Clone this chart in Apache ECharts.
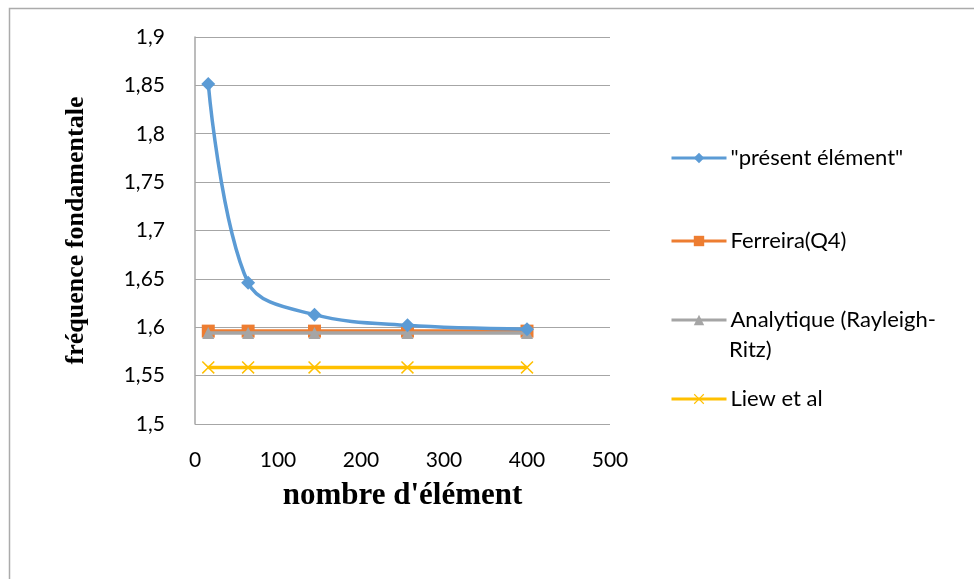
<!DOCTYPE html>
<html>
<head>
<meta charset="utf-8">
<script src="https://cdn.jsdelivr.net/npm/echarts@6/dist/echarts.min.js"></script>
<style>
  html, body { margin: 0; padding: 0; background: #fff; }
  #chart { width: 974px; height: 579px; }
</style>
</head>
<body>
<div id="chart"></div>
<script>
// Number of elements (mesh sizes)
const elements = [16, 64, 144, 256, 400];

// Fundamental frequency for each method
const presentElement = [1.8515, 1.646, 1.613, 1.602, 1.598];
const ferreira = [1.596, 1.596, 1.596, 1.596, 1.596];
const analytique = [1.594, 1.594, 1.594, 1.594, 1.594];
const liew = [1.5585, 1.5585, 1.5585, 1.5585, 1.5585];

const seriesNames = ['"présent élément"', 'Ferreira(Q4)', 'Analytique (Rayleigh-', 'Liew et al'];
const colors = ['#5B9BD5', '#ED7D31', '#A5A5A5', '#FFC000'];

const xTicks = { min: 0, max: 500, interval: 100 };
const yTicks = { min: 1.5, max: 1.9, interval: 0.05 };

const sansFont = 'Lato, "Open Sans", sans-serif';
const serifFont = '"Liberation Serif", "DejaVu Serif", serif';

const crossPath = 'path://M0,8L8,0L50,42L92,0L100,8L58,50L100,92L92,100L50,58L8,100L0,92L42,50Z';

function pairs(ys) { return elements.map((x, i) => [x, ys[i]]); }
const fmt = v => String(+v.toFixed(2)).replace('.', ',');

const chart = echarts.init(document.getElementById('chart'));

function legendAt(name, top) {
  return {
    data: [name], left: 670, top: top, orient: 'vertical',
    itemWidth: 55, itemHeight: 13, itemGap: 0, padding: 0,
    lineStyle: { width: 3 },
    textStyle: { fontFamily: sansFont, fontSize: 22, color: '#000', padding: [0, 0, 0, -1] },
    selectedMode: false
  };
}

chart.setOption({
  animation: false,
  color: colors,
  grid: { left: 195, right: 364, top: 37, bottom: 155 },
  graphic: [
    { type: 'rect', shape: { x: 9.5, y: 8.5, width: 1000, height: 1000 },
      style: { fill: 'none', stroke: '#ababab', lineWidth: 1.5 }, silent: true },
    { type: 'text', left: 729, top: 339,
      style: { text: 'Ritz)', fontFamily: sansFont, fontSize: 22, fill: '#000' } }
  ],
  legend: [
    legendAt(seriesNames[0], 147),
    legendAt(seriesNames[1], 230),
    legendAt(seriesNames[2], 309),
    legendAt(seriesNames[3], 388)
  ],
  xAxis: {
    type: 'value', min: xTicks.min, max: xTicks.max, interval: xTicks.interval,
    name: "nombre d'élément", nameLocation: 'middle', nameGap: 56,
    nameTextStyle: { fontFamily: serifFont, fontWeight: 'bold', fontSize: 31, color: '#000' },
    axisLine: { show: false }, axisTick: { show: false },
    axisLabel: { margin: 26, fontFamily: sansFont, fontSize: 21, color: '#000' },
    splitLine: { show: false }
  },
  yAxis: {
    type: 'value', min: yTicks.min, max: yTicks.max, interval: yTicks.interval,
    name: 'fréquence fondamentale', nameLocation: 'middle', nameGap: 106,
    nameTextStyle: { fontFamily: serifFont, fontWeight: 'bold', fontSize: 26, color: '#000' },
    axisLine: { show: true, onZero: false, lineStyle: { color: '#a6a6a6', width: 1.5 } },
    axisTick: { show: false },
    axisLabel: { margin: 30, formatter: fmt, fontFamily: sansFont, fontSize: 21, color: '#000' },
    splitLine: { show: true, lineStyle: { color: '#a6a6a6', width: 1.2 } }
  },
  series: [
    { name: seriesNames[0], type: 'line', data: pairs(presentElement), smooth: 0.35,
      symbol: 'diamond', symbolSize: 14, lineStyle: { width: 3.5, color: colors[0] },
      itemStyle: { color: colors[0] }, z: 5 },
    { name: seriesNames[1], type: 'line', data: pairs(ferreira),
      symbol: 'rect', symbolSize: 13, lineStyle: { width: 3.5, color: colors[1] },
      itemStyle: { color: colors[1] }, z: 3 },
    { name: seriesNames[2], type: 'line', data: pairs(analytique),
      symbol: 'triangle', symbolSize: 12, lineStyle: { width: 3.5, color: colors[2] },
      itemStyle: { color: colors[2] }, z: 4 },
    { name: seriesNames[3], type: 'line', data: pairs(liew),
      symbol: crossPath, symbolSize: 13, lineStyle: { width: 3.5, color: colors[3] },
      itemStyle: { color: colors[3] }, z: 3 }
  ]
});
</script>
</body>
</html>
